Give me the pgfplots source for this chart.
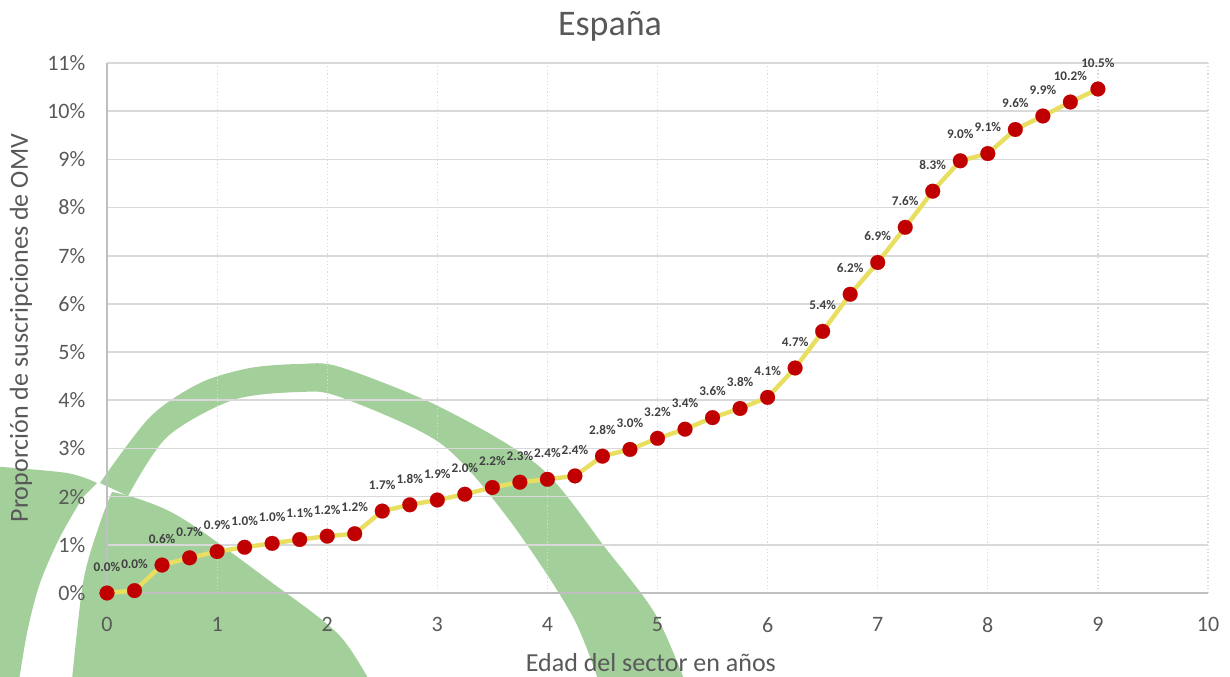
\documentclass[border=0pt]{standalone}
\usepackage{fontspec}
\setmainfont{Carlito}
\usepackage{pgfplots}
\pgfplotsset{compat=1.18}
\definecolor{wm}{RGB}{163,207,155}
\definecolor{txt}{RGB}{89,89,89}
\definecolor{lab}{RGB}{64,64,64}
\definecolor{gridc}{RGB}{217,217,217}
\definecolor{axc}{RGB}{191,191,191}
\definecolor{lin}{RGB}{232,222,96}
\definecolor{mk}{RGB}{192,0,0}
\begin{document}
\begin{tikzpicture}
\useasboundingbox (0,0) rectangle (615pt,338pt);
\begin{scope}
\clip (0,0) rectangle (615pt,338pt);
\begin{scope}[yshift=338pt, x=0.5pt, y=-0.5pt]
% watermark (background logo)
\fill[wm] plot[smooth] coordinates {(100,483) (150,417) (200,383) (250,368) (300,364) (340,367) (440,407) (540,467) (607,550) (657,617) (692,700)}
  -- plot[smooth] coordinates {(605,700) (573,617) (507,517) (440,443) (340,397) (300,392) (233,400) (167,437) (128,496)} -- cycle;
\fill[wm] plot[smooth] coordinates {(-10,466) (67,473) (97,483)}
  -- plot[smooth] coordinates {(83,497) (60,537) (40,583) (27,633) (16,700)} -- (-10,700) -- cycle;
\fill[wm] plot[smooth] coordinates {(112,492) (133,497) (167,510) (200,530) (267,579) (340,636) (380,700)}
  -- plot[smooth] coordinates {(70,700) (83,583) (100,523) (112,492)} -- cycle;
\end{scope}
\end{scope}
\node[anchor=base, text=txt, font=\fontsize{18}{21}\selectfont] at (305pt,320pt) {España};
\begin{axis}[
  at={(53.5pt,41.5pt)}, anchor=south west,
  width=550.5pt, height=265pt, scale only axis,
  xmin=0, xmax=10, ymin=0, ymax=11,
  xtick={0,1,...,10}, ytick={0,1,...,11},
  yticklabel={\pgfmathprintnumber{\tick}\%},
  axis lines*=left,
  axis line style={draw=axc, line width=0.8pt},
  major tick length=0pt,
  xmajorgrids, ymajorgrids,
  x grid style={draw=gridc, line width=0.6pt, dash pattern=on 0.6pt off 1.2pt},
  y grid style={draw=gridc, line width=0.8pt},
  ticklabel style={font=\fontsize{11}{13}\selectfont, text=txt},
  /pgf/number format/assume math mode=true,
  xticklabel style={yshift=-8.8pt},
  yticklabel style={xshift=-7.3pt},
  xlabel={Edad del sector en años},
  ylabel={Proporción de suscripciones de OMV},
  xlabel style={at={(axis description cs:0.494,-0.149)}, anchor=base, font=\fontsize{13}{15}\selectfont, text=txt},
  ylabel style={at={(axis description cs:-0.0718,0.5)}, anchor=base, rotate=0, font=\fontsize{13}{15}\selectfont, text=txt},
  clip=false,
]
\addplot[draw=lin, line width=2.2pt, mark=*, mark size=3.7pt,
  mark options={solid, draw=mk, fill=mk, line width=0.1pt},
  point meta=explicit,
  nodes near coords={\pgfmathprintnumber[fixed,fixed zerofill,precision=1,assume math mode=true]{\pgfplotspointmeta}\%},
  every node near coord/.append style={anchor=south, inner sep=0pt, yshift=10.8pt, font=\fontsize{6.6}{7}\selectfont\bfseries, text=lab},
] table[x=x, y=y, meta=l] {
x y l
0 0.00 0.0
0.25 0.05 0.0
0.5 0.58 0.6
0.75 0.73 0.7
1 0.86 0.9
1.25 0.95 1.0
1.5 1.03 1.0
1.75 1.11 1.1
2 1.18 1.2
2.25 1.23 1.2
2.5 1.70 1.7
2.75 1.83 1.8
3 1.93 1.9
3.25 2.05 2.0
3.5 2.19 2.2
3.75 2.30 2.3
4 2.36 2.4
4.25 2.43 2.4
4.5 2.84 2.8
4.75 2.98 3.0
5 3.21 3.2
5.25 3.40 3.4
5.5 3.64 3.6
5.75 3.83 3.8
6 4.06 4.1
6.25 4.67 4.7
6.5 5.43 5.4
6.75 6.20 6.2
7 6.86 6.9
7.25 7.59 7.6
7.5 8.34 8.3
7.75 8.97 9.0
8 9.12 9.1
8.25 9.62 9.6
8.5 9.90 9.9
8.75 10.19 10.2
9 10.46 10.5
};
\end{axis}
\end{tikzpicture}
\end{document}
